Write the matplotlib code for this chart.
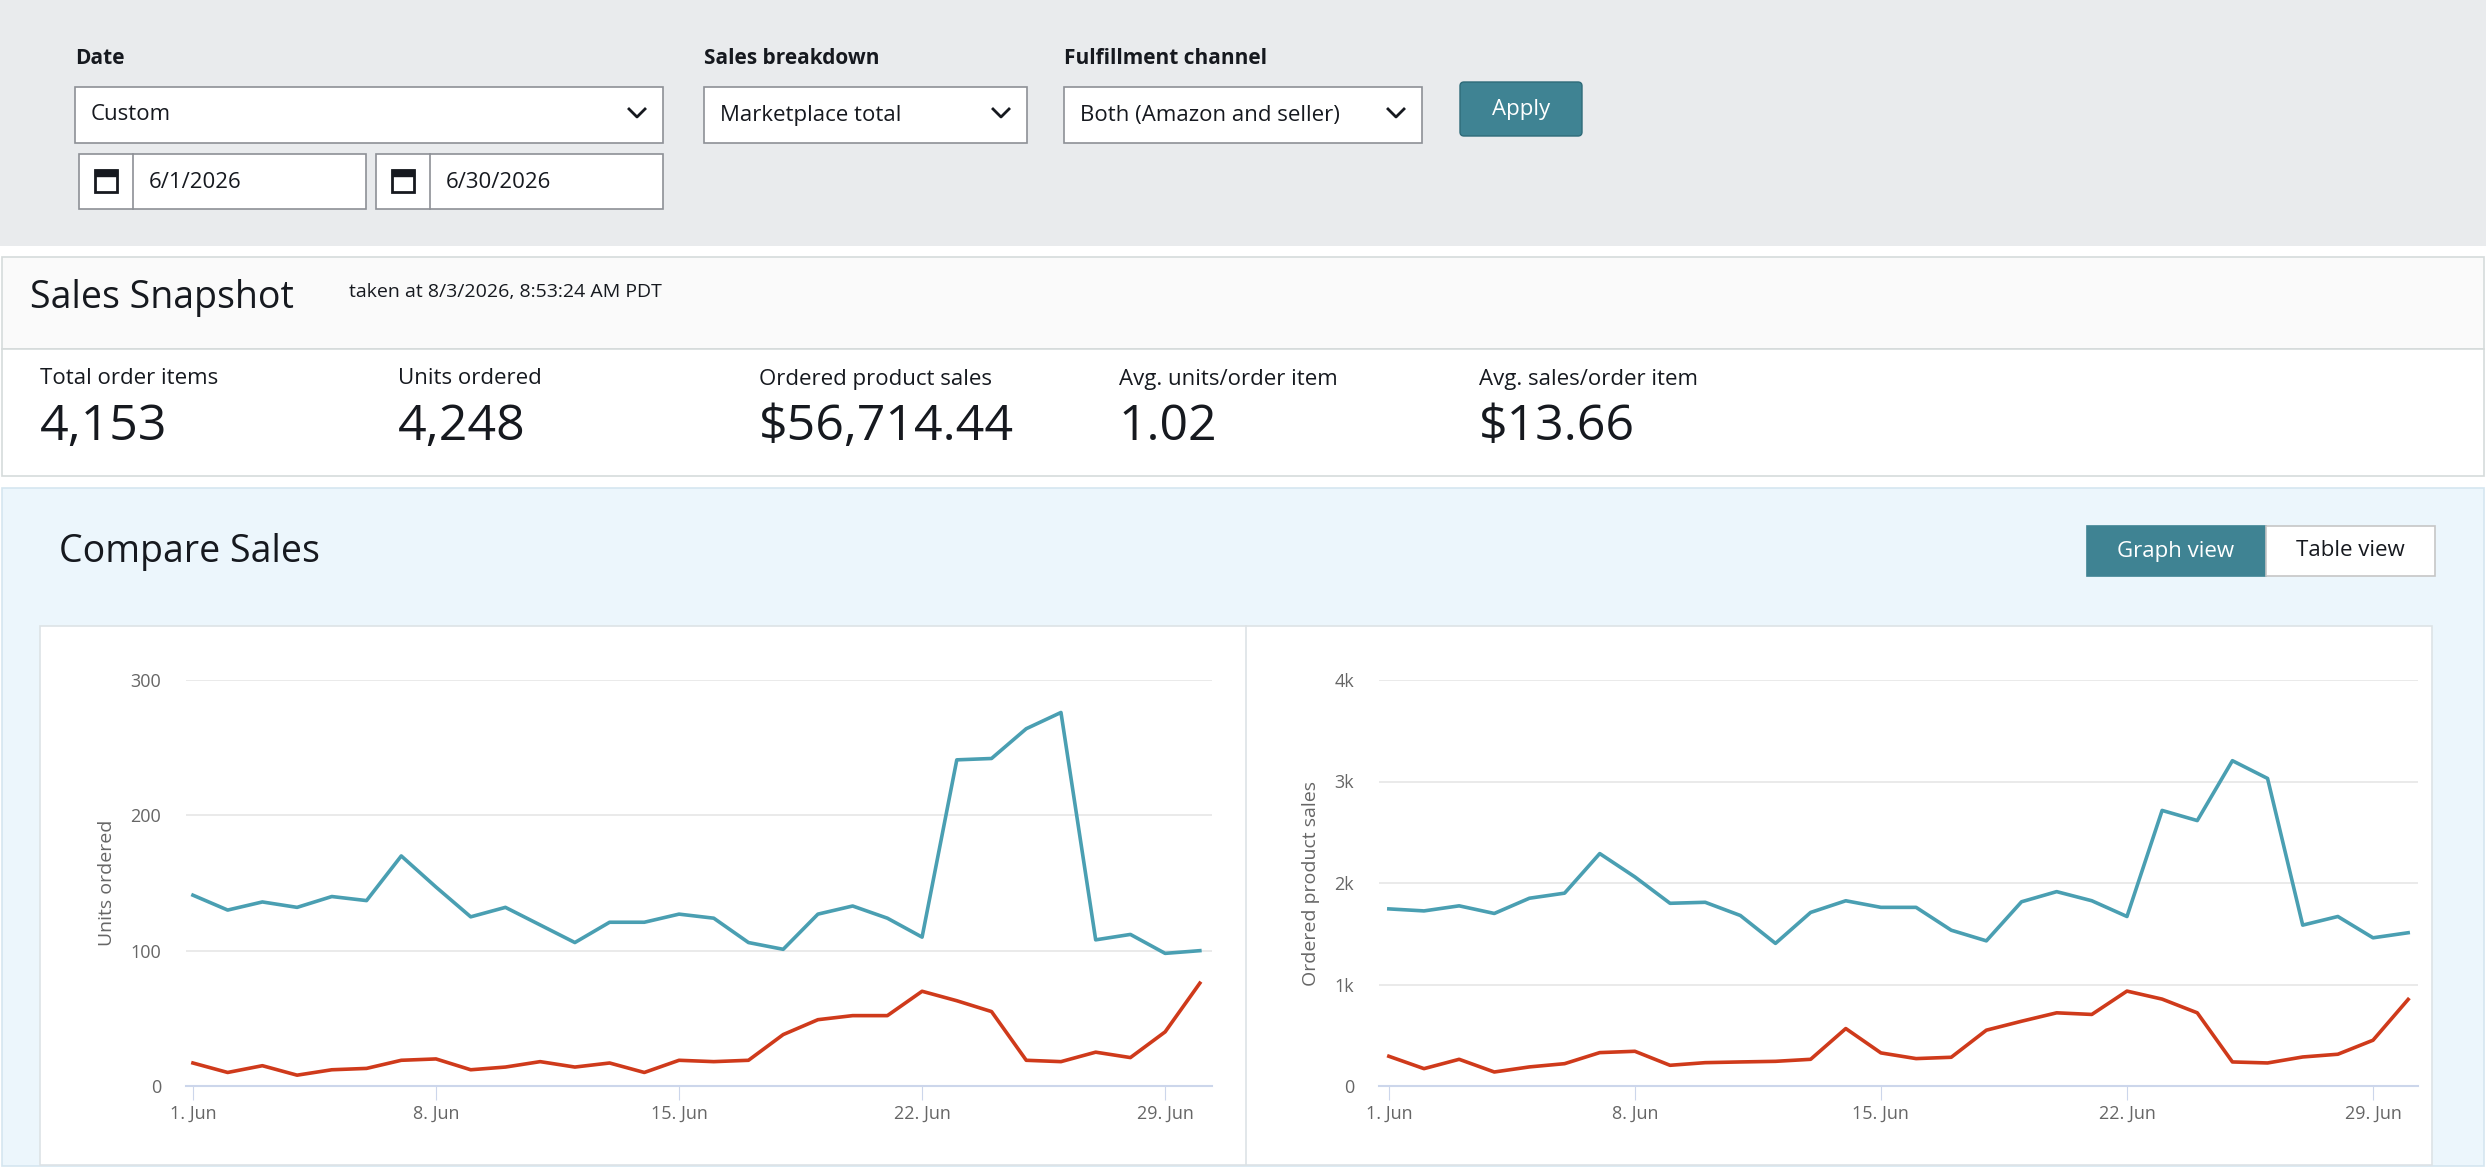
import matplotlib.pyplot as plt
from matplotlib.patches import Rectangle, FancyBboxPatch

plt.rcParams['font.family'] = ['Open Sans', 'DejaVu Sans']

days = list(range(1, 31))
units_total = [141, 130, 136, 132, 140, 137, 170, 147, 125, 132, 119, 106, 121, 121, 127,
               124, 106, 101, 127, 133, 124, 110, 241, 242, 264, 276, 108, 112, 98, 100]
units_b2b = [17, 10, 15, 8, 12, 13, 19, 20, 12, 14, 18, 14, 17, 10, 19,
             18, 19, 38, 49, 52, 52, 70, 63, 55, 19, 18, 25, 21, 40, 76]
sales_total = [1745, 1725, 1775, 1700, 1850, 1900, 2290, 2060, 1800, 1810, 1680, 1405, 1710, 1825, 1760,
               1760, 1535, 1430, 1815, 1915, 1825, 1670, 2715, 2615, 3205, 3030, 1585, 1670, 1460, 1510]
sales_b2b = [293, 171, 263, 138, 188, 220, 329, 342, 204, 230, 237, 243, 263, 566, 326,
             270, 283, 550, 638, 721, 705, 935, 856, 721, 237, 227, 286, 313, 451, 853]
tick_days = [1, 8, 15, 22, 29]
tick_labels = ['1. Jun', '8. Jun', '15. Jun', '22. Jun', '29. Jun']

metric_labels = ['Total order items', 'Units ordered', 'Ordered product sales',
                 'Avg. units/order item', 'Avg. sales/order item']
metric_values = ['4,153', '4,248', '$56,714.44', '1.02', '$13.66']

W, H = 2486, 1168
fig = plt.figure(figsize=(W / 100, H / 100), dpi=100)
bg = fig.add_axes([0, 0, 1, 1])
bg.set_xlim(0, W)
bg.set_ylim(H, 0)
bg.axis('off')

def rect(x0, y0, x1, y1, fc, ec='none', lw=1, z=1):
    bg.add_patch(Rectangle((x0, y0), x1 - x0, y1 - y0, fc=fc, ec=ec, lw=lw, zorder=z))

def chevron(cx, cy):
    bg.plot([cx - 8, cx, cx + 8], [cy - 4, cy + 4, cy - 4], color='#16191f', lw=2, zorder=3)

TXT = '#16191f'
# filter bar
rect(0, 0, W, 246, '#e9ebed')
for x, lab in [(75, 'Date'), (704, 'Sales breakdown'), (1064, 'Fulfillment channel')]:
    bg.text(x, 59, lab, fontsize=15, fontweight='bold', color=TXT, va='center')
for x0, x1, lab in [(75, 663, 'Custom'), (704, 1027, 'Marketplace total'),
                    (1064, 1422, 'Both (Amazon and seller)')]:
    rect(x0, 87, x1, 143, 'white', '#8d9096', 1.2, 2)
    bg.text(x0 + 16, 115, lab, fontsize=16, color=TXT, va='center', zorder=3)
    chevron(x1 - 26, 113)
for x0, x1, lab in [(79, 366, '6/1/2026'), (376, 663, '6/30/2026')]:
    rect(x0, 154, x1, 209, 'white', '#8d9096', 1.2, 2)
    bg.plot([x0 + 54, x0 + 54], [154, 209], color='#8d9096', lw=1.2, zorder=3)
    rect(x0 + 16, 170, x0 + 38, 192, 'none', TXT, 2, 3)
    rect(x0 + 16, 170, x0 + 38, 176, TXT, TXT, 1, 3)
    bg.text(x0 + 70, 182, lab, fontsize=16, color=TXT, va='center', zorder=3)
bg.add_patch(FancyBboxPatch((1460, 82), 122, 54, boxstyle='round,pad=0,rounding_size=4',
                            fc='#3f8393', ec='#2e6b79', zorder=2))
bg.text(1521, 109, 'Apply', fontsize=16, color='white', ha='center', va='center', zorder=3)

# snapshot
rect(2, 257, W - 2, 349, '#fafafa', '#d5dbdb', 1.2)
bg.text(30, 298, 'Sales Snapshot', fontsize=27, color=TXT, va='center')
bg.text(349, 292, 'taken at 8/3/2026, 8:53:24 AM PDT', fontsize=14, color=TXT, va='center')
rect(2, 349, W - 2, 476, 'white', '#d5dbdb', 1.2)
for x, lab, val in zip([40, 398, 759, 1119, 1479], metric_labels, metric_values):
    bg.text(x, 379, lab, fontsize=16, color=TXT, va='center')
    bg.text(x, 427, val, fontsize=36, color=TXT, va='center')

# compare sales
rect(2, 488, W - 2, 1166, '#ecf6fc', '#d5e6f0', 1.2)
bg.text(59, 552, 'Compare Sales', fontsize=27, color=TXT, va='center')
rect(2087, 526, 2266, 576, '#3f8393', '#3f8393', 1.2, 2)
bg.text(2176, 551, 'Graph view', fontsize=16, color='white', ha='center', va='center', zorder=3)
rect(2266, 526, 2435, 576, 'white', '#c6c6c6', 1.2, 2)
bg.text(2350, 551, 'Table view', fontsize=16, color=TXT, ha='center', va='center', zorder=3)
rect(40, 626, 2432, 1165, 'white', '#dde3e6', 1.2, 2)
bg.plot([1246, 1246], [626, 1165], color='#dde3e6', lw=1.2, zorder=3)

def chart(px0, px1, xlim, ymax, yticks, ylabels, ylab, total, b2b):
    ax = fig.add_axes([px0 / W, 1 - 1086 / H, (px1 - px0) / W, (1086 - 680) / H])
    ax.set_zorder(5)
    ax.patch.set_alpha(0)
    ax.plot(days, total, color='#4a9fb2', lw=2.6)
    ax.plot(days, b2b, color='#cf3a1b', lw=2.6)
    ax.set_xlim(*xlim)
    ax.set_ylim(0, ymax)
    ax.set_yticks(yticks, ylabels)
    ax.set_xticks(tick_days, tick_labels)
    ax.grid(axis='y', color='#e6e6e6', lw=1.2)
    ax.set_axisbelow(True)
    for s in ['top', 'right', 'left']:
        ax.spines[s].set_visible(False)
    ax.spines['bottom'].set_color('#ccd6eb')
    ax.spines['bottom'].set_linewidth(1.5)
    ax.tick_params(axis='y', length=0, labelsize=13, labelcolor='#666666', pad=18)
    ax.tick_params(axis='x', length=10, color='#ccd6eb', labelsize=13, labelcolor='#666666')
    ax.set_ylabel(ylab, fontsize=14, color='#666666', labelpad=10)

chart(186, 1212, (0.8, 30.35), 300, [0, 100, 200, 300], ['0', '100', '200', '300'],
      'Units ordered', units_total, units_b2b)
chart(1379, 2418, (0.72, 30.28), 4000, [0, 1000, 2000, 3000, 4000], ['0', '1k', '2k', '3k', '4k'],
      'Ordered product sales', sales_total, sales_b2b)

fig.savefig('out.png', dpi=100)
